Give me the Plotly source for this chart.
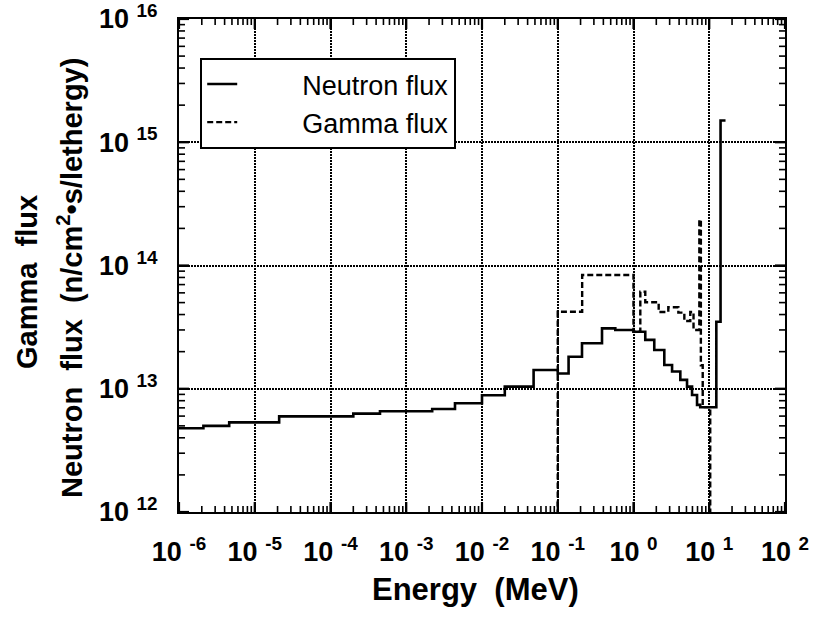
import math
import plotly.graph_objects as go

# ---- data ----
neutron_edges_mev = [1e-6, 2.1e-6, 4.6e-6, 2.1e-5, 2.0e-4, 4.5e-4, 2.2e-3, 4.4e-3, 1.0e-2,
                     2.0e-2, 4.8e-2, 0.1, 0.139, 0.209, 0.384, 0.575, 1.0, 1.43, 1.88,
                     2.55, 3.23, 4.15, 5.09, 5.93, 6.9, 7.6, 12.4, 14.1, 16.4]
neutron_flux = [4.78e12, 5.0e12, 5.34e12, 5.97e12, 6.28e12, 6.57e12, 6.85e12, 7.62e12,
                8.85e12, 1.04e13, 1.42e13, 1.33e13, 1.82e13, 2.34e13, 3.09e13, 3.0e13,
                2.9e13, 2.49e13, 2.06e13, 1.56e13, 1.38e13, 1.18e13, 1.04e13, 8.9e12,
                7.4e12, 7.08e12, 3.5e13, 1.5e15]

gamma_edges_mev = [0.1, 0.21, 1.0, 1.23, 1.43, 2.15, 2.88, 3.91, 4.69, 5.62, 6.2, 7.4,
                   7.75, 8.2, 10.3]
gamma_flux = [4.22e13, 8.37e13, 2.9e13, 6.12e13, 5.04e13, 4.2e13, 4.58e13, 4.15e13,
              3.55e13, 4.2e13, 3.0e13, 2.35e14, 1.55e13, 7.1e12]
gamma_floor = 1e10  # the gamma histogram drops to zero outside its group range

x_tick_vals = [1e-6, 1e-5, 1e-4, 1e-3, 1e-2, 1e-1, 1e0, 1e1, 1e2]
x_tick_text = ["10\u00a0<sup>-6</sup>", "10\u00a0<sup>-5</sup>", "10\u00a0<sup>-4</sup>",
               "10\u00a0<sup>-3</sup>", "10\u00a0<sup>-2</sup>", "10\u00a0<sup>-1</sup>",
               "10\u00a0<sup>0</sup>", "10\u00a0<sup>1</sup>", "10\u00a0<sup>2</sup>"]
y_tick_vals = [1e12, 1e13, 1e14, 1e15, 1e16]
y_tick_text = ["10\u00a0<sup>12</sup>", "10\u00a0<sup>13</sup>", "10\u00a0<sup>14</sup>",
               "10\u00a0<sup>15</sup>", "10\u00a0<sup>16</sup>"]
minor_multipliers = [2, 3, 4, 5, 6, 7, 8, 9]

# ---- build step (histogram) traces ----
n_x = list(neutron_edges_mev)
n_y = list(neutron_flux) + [neutron_flux[-1]]

g_x = [gamma_edges_mev[0]] + list(gamma_edges_mev) + [gamma_edges_mev[-1]]
g_y = [gamma_floor] + list(gamma_flux) + [gamma_flux[-1], gamma_floor]

minor_x = [k * v for v in x_tick_vals[:-1] for k in minor_multipliers]
minor_y = [k * v for v in y_tick_vals[:-1] for k in minor_multipliers]

X_LOG_RANGE = [-6, 2]
Y_LOG_RANGE = [12, 16]

FONT = "Liberation Sans, Arial, Helvetica, sans-serif"
PAD = "\u00a0" * 8
PLOT_W, PLOT_H = 606, 493  # plot area size in px (from margins below)

fig = go.Figure()
fig.add_trace(go.Scatter(x=n_x, y=n_y, mode="lines", name=PAD + "Neutron flux",
                         line=dict(color="black", width=2.6, shape="hv")))
fig.add_trace(go.Scatter(x=g_x, y=g_y, mode="lines", name=PAD + "Gamma flux",
                         line=dict(color="black", width=2.4, shape="hv", dash="6px,3px")))

axis_common = dict(
    showline=True, linecolor="black", linewidth=2, mirror="allticks",
    ticks="inside", ticklen=10, tickwidth=2, tickcolor="#000000",
    showgrid=True, gridcolor="#000000", gridwidth=2, griddash="2px,1px",
    zeroline=False, automargin=False,
    tickfont=dict(family=FONT, size=27, color="black", weight="bold"),
)

fig.update_layout(
    template="none",
    xaxis=dict(type="log", range=X_LOG_RANGE, tickmode="array",
               tickvals=x_tick_vals, ticktext=x_tick_text,
               ticklabelstandoff=15, **axis_common),
    yaxis=dict(type="log", range=Y_LOG_RANGE, tickmode="array",
               tickvals=y_tick_vals, ticktext=y_tick_text,
               ticklabelstandoff=14, **axis_common),
)

# inside tick marks on all four sides (log minor ticks 2..9 and decade ticks),
# placed in paper coordinates from the log-axis mapping
def _xfrac(v):
    return (math.log10(v) - X_LOG_RANGE[0]) / (X_LOG_RANGE[1] - X_LOG_RANGE[0])

def _yfrac(v):
    return (math.log10(v) - Y_LOG_RANGE[0]) / (Y_LOG_RANGE[1] - Y_LOG_RANGE[0])

tick_shapes = []
def _xtick(v, length, width):
    f = _xfrac(v)
    for y0, y1 in ((0, length / PLOT_H), (1, 1 - length / PLOT_H)):
        tick_shapes.append(dict(type="line", xref="paper", yref="paper", x0=f, x1=f,
                                y0=y0, y1=y1, layer="above",
                                line=dict(color="black", width=width)))

def _ytick(v, length, width):
    f = _yfrac(v)
    for x0, x1 in ((0, length / PLOT_W), (1, 1 - length / PLOT_W)):
        tick_shapes.append(dict(type="line", xref="paper", yref="paper", x0=x0, x1=x1,
                                y0=f, y1=f, layer="above",
                                line=dict(color="black", width=width)))

for v in minor_x:
    _xtick(v, 6, 1.6)
for v in x_tick_vals:
    _xtick(v, 10, 2.2)
for v in minor_y:
    _ytick(v, 6, 1.6)
for v in y_tick_vals:
    _ytick(v, 10, 2.2)

fig.update_layout(
    width=819, height=622,
    margin=dict(l=179, r=34, t=19, b=110, pad=0),
    paper_bgcolor="white", plot_bgcolor="white",
    font=dict(family=FONT, color="black"),
    showlegend=True,
    legend=dict(x=0.035, y=0.921, xanchor="left", yanchor="top",
                bgcolor="white", bordercolor="black", borderwidth=2,
                font=dict(family=FONT, size=27, color="black"),
                tracegroupgap=0),
    shapes=tick_shapes,
    annotations=[
        dict(text="<b>Energy\u00a0\u00a0(MeV)</b>", xref="paper", yref="paper",
             x=0.49, y=-0.158, xanchor="center", yanchor="middle", showarrow=False,
             font=dict(family=FONT, size=31, color="black")),
        dict(text="<b>Gamma\u00a0\u00a0flux</b>", xref="paper", yref="paper",
             x=(27 - 179) / 606, y=(512 - 282) / 493, xanchor="center", yanchor="middle",
             textangle=-90, showarrow=False,
             font=dict(family=FONT, size=29, color="black")),
        dict(text="<b>Neutron\u00a0\u00a0flux\u00a0\u00a0(n/cm<sup>2</sup>\u2022s/lethergy)</b>",
             xref="paper", yref="paper",
             x=(70 - 179) / 606, y=(512 - 278) / 493, xanchor="center", yanchor="middle",
             textangle=-90, showarrow=False,
             font=dict(family=FONT, size=29, color="black")),
    ],
)

fig.write_html("out.html")
